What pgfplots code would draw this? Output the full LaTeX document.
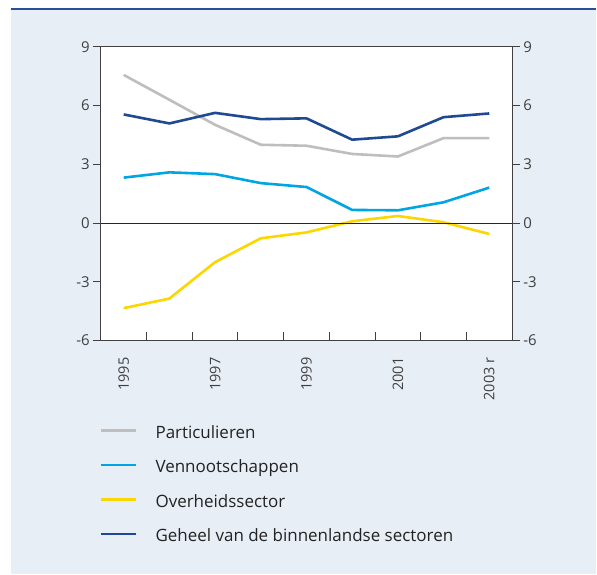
\documentclass[border=0pt]{standalone}
\usepackage{pgfplots}
\pgfplotsset{compat=1.18}
\usepackage{fontspec}
\setmainfont{Open Sans}
\definecolor{bg}{HTML}{E8EEF6}
\definecolor{topline}{HTML}{27509B}
\definecolor{cgray}{HTML}{BEBEBE}
\definecolor{clblue}{HTML}{00A6E4}
\definecolor{cyellow}{HTML}{FCD600}
\definecolor{cdblue}{HTML}{1F4A93}
\definecolor{axc}{HTML}{404040}
\definecolor{txt}{HTML}{222222}
\begin{document}
\begin{tikzpicture}[x=1pt,y=1pt]
\fill[white] (0,0) rectangle (597,-575);
\fill[bg] (11,-10) rectangle (597,-575);
\draw[topline, line width=2pt] (11,-9) -- (597,-9);
\begin{axis}[
  at={(101pt,-341pt)}, anchor=south west,
  scale only axis, width=412pt, height=294pt,
  xmin=1994.5, xmax=2003.5, ymin=-6, ymax=9,
  axis background/.style={fill=white},
  axis line style={axc, line width=1pt},
  tick align=outside,
  ytick={-6,-3,0,3,6,9}, yticklabels={-6,-3,0,3,6,9},
  ytick pos=left,
  major tick length=8pt,
  ytick style={axc, line width=1pt},
  xtick={1995,1997,1999,2001,2003},
  xticklabels={1995,1997,1999,2001,2003 r},
  xtick pos=bottom,
  major x tick style={draw=none},
  minor xtick={1995.5,1996.5,1997.5,1998.5,1999.5,2000.5,2001.5,2002.5},
  minor tick length=8pt,
  minor x tick style={axc, line width=1pt, yshift=8pt},
  tick label style={font=\fontsize{15}{18}\selectfont, text=axc},
  yticklabel style={inner sep=3pt},
  xticklabel style={rotate=90, anchor=east, inner sep=0pt, xshift=-9pt, font=\fontsize{14.5}{17}\selectfont},
  legend style={at={(axis description cs:0,0)}, anchor=north west,
    xshift=-1pt, yshift=-86pt, draw=none, fill=none, inner sep=0pt,
    font=\fontsize{17}{20}\selectfont, text=txt,
    nodes={inner sep=0pt, text height=12pt, text depth=4pt},
    row sep=18.5pt,
    /tikz/every odd column/.append style={column sep=18pt}},
  legend cell align=left,
  legend image code/.code={\draw[#1] (0pt,4pt) -- (35pt,4pt);},
  clip=false,
]
\addplot[cgray, line width=2.6pt] coordinates {
(1995,7.57)(1996,6.3)(1997,5.02)(1998,4.0)(1999,3.95)(2000,3.53)(2001,3.4)(2002,4.34)(2003,4.34)};
\addlegendentry{Particulieren}
\addplot[clblue, line width=2.6pt] coordinates {
(1995,2.32)(1996,2.59)(1997,2.5)(1998,2.04)(1999,1.84)(2000,0.67)(2001,0.65)(2002,1.06)(2003,1.81)};
\addlegendentry{Vennootschappen}
\addplot[cyellow, line width=2.6pt] coordinates {
(1995,-4.35)(1996,-3.86)(1997,-2.0)(1998,-0.78)(1999,-0.48)(2000,0.09)(2001,0.36)(2002,0.04)(2003,-0.56)};
\addlegendentry{Overheidssector}
\addplot[cdblue, line width=2.6pt] coordinates {
(1995,5.55)(1996,5.09)(1997,5.63)(1998,5.31)(1999,5.35)(2000,4.26)(2001,4.43)(2002,5.41)(2003,5.6)};
\addlegendentry{Geheel van de binnenlandse sectoren}
\addplot[black!85, line width=1pt, forget plot] coordinates {(1994.5,0)(2003.5,0)};
\end{axis}
\begin{axis}[
  at={(101pt,-341pt)}, anchor=south west,
  scale only axis, width=412pt, height=294pt,
  xmin=1994.5, xmax=2003.5, ymin=-6, ymax=9,
  axis x line=none, axis y line*=right,
  axis line style={axc, line width=1pt},
  tick align=outside, major tick length=8pt,
  ytick={-6,-3,0,3,6,9}, yticklabels={-6,-3,0,3,6,9},
  ytick style={axc, line width=1pt},
  tick label style={font=\fontsize{15}{18}\selectfont, text=axc},
  yticklabel style={inner sep=3pt},
]
\end{axis}
\end{tikzpicture}
\end{document}
